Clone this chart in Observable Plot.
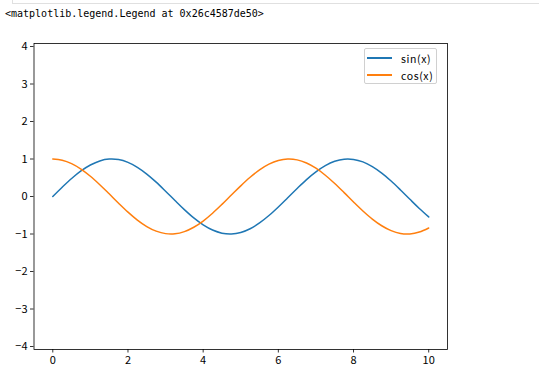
<!DOCTYPE html>
<html>
<head>
<meta charset="utf-8">
<script src="https://cdn.jsdelivr.net/npm/d3@7"></script>
<script src="https://cdn.jsdelivr.net/npm/@observablehq/plot@0.6"></script>
<style>
  html, body { margin: 0; padding: 0; background: #fff; }
  #wrap { position: relative; width: 539px; height: 383px; overflow: hidden; }
  #cellborder { position: absolute; left: 12px; top: -2px; width: 540px; height: 5px;
    border-left: 1px solid #e0e0e0; border-bottom: 1px solid #e0e0e0; }
  #title { position: absolute; left: 5px; top: 8px; font-family: "DejaVu Sans Mono", monospace;
    font-size: 10px; color: #000; white-space: pre; }
  #chart { position: absolute; left: 0; top: 30px; }
  #legend { position: absolute; left: 364px; top: 48px; width: 73px; height: 36px;
    border: 1px solid #d0d0d0; border-radius: 2px; background: rgba(255,255,255,0.8);
    font-family: "Noto Sans CJK SC", sans-serif; font-size: 10.5px; letter-spacing: 0.6px; box-sizing: border-box; }
  .row { position: absolute; left: 2px; height: 14px; display: flex; align-items: center; }
  .sw { width: 25px; height: 2px; margin-right: 9px; }
</style>
</head>
<body>
<div id="wrap">
  <div id="cellborder"></div>
  <div id="title">&lt;matplotlib.legend.Legend at 0x26c4587de50&gt;</div>
  <div id="chart"></div>
  <div id="legend"></div>
</div>
<script>
const xs = [0, 0.25, 0.5, 0.75, 1, 1.25, 1.5, 1.75, 2, 2.25, 2.5, 2.75, 3, 3.25, 3.5, 3.75, 4, 4.25, 4.5, 4.75, 5,
  5.25, 5.5, 5.75, 6, 6.25, 6.5, 6.75, 7, 7.25, 7.5, 7.75, 8, 8.25, 8.5, 8.75, 9, 9.25, 9.5, 9.75, 10];
const sinValues = [0, 0.247, 0.479, 0.682, 0.841, 0.949, 0.997, 0.984, 0.909, 0.778, 0.598, 0.382, 0.141, -0.108,
  -0.351, -0.572, -0.757, -0.895, -0.978, -0.999, -0.959, -0.859, -0.706, -0.508, -0.279, -0.033, 0.215, 0.451,
  0.657, 0.823, 0.938, 0.995, 0.989, 0.923, 0.798, 0.625, 0.412, 0.174, -0.075, -0.319, -0.544];
const cosValues = [1, 0.969, 0.878, 0.732, 0.540, 0.315, 0.071, -0.178, -0.416, -0.628, -0.801, -0.924, -0.990,
  -0.994, -0.936, -0.820, -0.654, -0.446, -0.211, 0.038, 0.284, 0.512, 0.709, 0.862, 0.960, 0.999, 0.977, 0.893,
  0.754, 0.567, 0.347, 0.104, -0.146, -0.386, -0.602, -0.780, -0.911, -0.985, -0.997, -0.948, -0.839];
const seriesNames = ["sin(x)", "cos(x)"];
const seriesColors = ["#1f77b4", "#ff7f0e"];
const xTicks = [0, 2, 4, 6, 8, 10];
const yTicks = [-4, -3, -2, -1, 0, 1, 2, 3, 4];

const data = [];
xs.forEach((x, i) => data.push({x, y: sinValues[i], s: seriesNames[0]}));
xs.forEach((x, i) => data.push({x, y: cosValues[i], s: seriesNames[1]}));

const chart = Plot.plot({
  width: 539,
  height: 353,
  marginLeft: 33.5,
  marginRight: 92,
  marginTop: 13,
  marginBottom: 34,
  style: { fontFamily: "'Noto Sans CJK SC', sans-serif", fontSize: "11px", color: "#000", background: "transparent" },
  x: { domain: [-0.5, 10.5], ticks: xTicks, tickSize: 3.5, tickPadding: 3, label: null },
  y: { domain: [-4.08, 4.08], ticks: yTicks, tickSize: 3.5, tickPadding: 3, label: null },
  color: { domain: seriesNames, range: seriesColors },
  marks: [
    Plot.line(data, { x: "x", y: "y", z: "s", stroke: "s", strokeWidth: 1.5, curve: "catmull-rom" }),
    Plot.frame({ stroke: "#000", strokeWidth: 0.8 }),
    Plot.axisX({ ticks: xTicks, tickSize: 3.5, tickPadding: 3, stroke: "#000", strokeWidth: 0.8 }),
    Plot.axisY({ ticks: yTicks, tickSize: 3.5, tickPadding: 3, stroke: "#000", strokeWidth: 0.8 })
  ]
});
document.getElementById("chart").appendChild(chart);

const legend = document.getElementById("legend");
seriesNames.forEach((name, i) => {
  const row = document.createElement("div");
  row.className = "row";
  row.style.top = (2 + i * 17) + "px";
  const sw = document.createElement("div");
  sw.className = "sw";
  sw.style.background = seriesColors[i];
  const t = document.createElement("span");
  t.textContent = name;
  row.appendChild(sw);
  row.appendChild(t);
  legend.appendChild(row);
});
</script>
</body>
</html>
